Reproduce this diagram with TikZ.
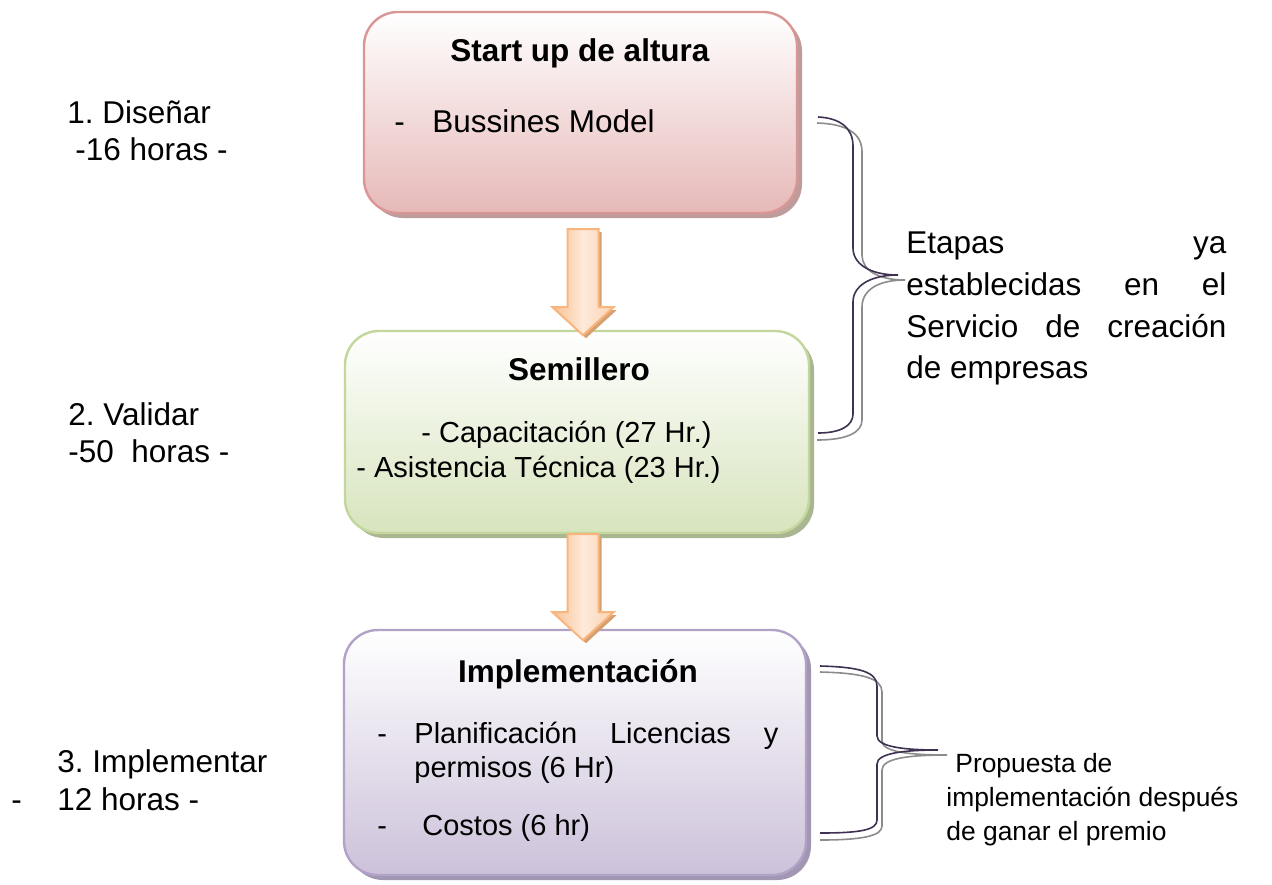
\documentclass[tikz,border=0pt]{standalone}
\usepackage{fontspec}
\setmainfont{Liberation Sans}
\usetikzlibrary{calc,shadows}
\frenchspacing

\definecolor{rosebd}{HTML}{D99694}
\definecolor{rosefill}{HTML}{E6B9B8}
\definecolor{roseshd}{HTML}{BF9C9C}
\definecolor{greenbd}{HTML}{C3D69B}
\definecolor{greenfill}{HTML}{D7E4BD}
\definecolor{greenshd}{HTML}{A9B791}
\definecolor{purpbd}{HTML}{B3A2C7}
\definecolor{purpfill}{HTML}{CCC1DA}
\definecolor{purpshd}{HTML}{A197B2}
\definecolor{orbd}{HTML}{F8B57E}
\definecolor{orfill}{HTML}{FAC090}
\definecolor{orlight}{HTML}{FDEADA}
\definecolor{orshd}{HTML}{D6A070}
\definecolor{bracedk}{HTML}{3F3151}
\definecolor{bracegr}{HTML}{8C8C8C}

\begin{document}
\begin{tikzpicture}[x=0.5pt,y=-0.5pt,
  stagebox/.style={rounded corners=17pt, line width=1.2pt, inner sep=0pt},
  txt/.style={inner sep=0pt, anchor=base west, font=\fontsize{15.75}{18}\selectfont},
  txtsm/.style={inner sep=0pt, anchor=base west, font=\fontsize{14.5}{17}\selectfont},
  txtnote/.style={inner sep=0pt, anchor=base west, font=\fontsize{13.2}{16}\selectfont},
  ttl/.style={inner sep=0pt, anchor=base, font=\fontsize{15.75}{18}\selectfont\bfseries},
  bracedark/.style={draw=bracedk, line width=0.8pt},
  bracegray/.style={draw=bracegr, line width=0.8pt},
  barrow/.pic={
    \fill[orshd] (-12.5,3) -- (18.5,3) -- (18.5,81) -- (33.5,81) -- (3,109) -- (-27.5,81) -- (-12.5,81) -- cycle;
    \path[draw=orbd, line width=1pt, left color=orfill, right color=orfill!55!orlight, middle color=orlight]
      (-15.5,0) -- (15.5,0) -- (15.5,78) -- (30.5,78) -- (0,106) -- (-30.5,78) -- (-15.5,78) -- cycle;
  }
]
\fill[white] (0,0) rectangle (1272,884);
\useasboundingbox (0,0) rectangle (1272,884);

% boxes
\node[stagebox, draw=rosebd, top color=white, bottom color=rosefill,
      drop shadow={shadow xshift=2.5pt, shadow yshift=-2.5pt, fill=roseshd, opacity=1},
      minimum width=216.5pt, minimum height=100.5pt] (b1) at (580.5,112.5) {};
\node[stagebox, draw=greenbd, top color=white, bottom color=greenfill,
      drop shadow={shadow xshift=2.5pt, shadow yshift=-2.5pt, fill=greenshd, opacity=1},
      minimum width=232pt, minimum height=101pt] (b2) at (577,432) {};
\node[stagebox, draw=purpbd, top color=white, bottom color=purpfill,
      drop shadow={shadow xshift=2.5pt, shadow yshift=-2.5pt, fill=purpshd, opacity=1},
      minimum width=231pt, minimum height=122.5pt] (b3) at (575,752.5) {};

% block arrows
\coordinate (a1) at ($(b1.south)+(2.5,15)$);
\coordinate (a2) at ($(b2.south)+(6,0)$);
\pic (ar1) at (a1) {barrow};
\pic (ar2) at (a2) {barrow};

% box 1 text
\node[ttl] (t1) at (580,61) {Start up de altura};
\node[txt] (d1) at (394,132) {-};
\node[txt] (m1) at (432,132) {Bussines Model};

% box 2 text
\node[ttl] (t2) at (579,380) {Semillero};
\node[txtsm] (m2a) at (421,442) {- Capacitación (27 Hr.)};
\node[txtsm] (m2b) at (356,477) {- Asistencia Técnica (23 Hr.)};

% box 3 text
\node[ttl] (t3) at (578,682) {Implementación};
\node[txtsm] (d3a) at (377,743) {-};
\node[txtsm] (m3a) at (414,743) {\hbox to 182pt{Planificación\hfill Licencias\hfill y}};
\node[txtsm] (m3b) at (414,777) {permisos (6 Hr)};
\node[txtsm] (d3b) at (377,835) {-};
\node[txtsm] (m3c) at (422,835) {Costos (6 hr)};

% left labels
\node[txt] (l1a) at (67,123) {1. Diseñar};
\node[txt] (l1b) at (75,160) {-16 horas -};
\node[txt] (l2a) at (68,425) {2. Validar};
\node[txt] (l2b) at (68,462) {-50\ \ horas -};
\node[txt] (l3a) at (57,772) {3. Implementar};
\node[txt] (l3d) at (11,810) {-};
\node[txt] (l3b) at (57,810) {12 horas -};

% brace 1
\draw[bracegray] (817,123) .. controls (848,124) and (862,134) .. (862,152) -- (862,255)
  .. controls (862,270) and (878,280) .. (905,280)
  .. controls (878,280) and (862,290) .. (862,307) -- (862,420)
  .. controls (862,432) and (848,440) .. (817,440);
\draw[bracedark] (818,117) .. controls (840,118) and (853,128) .. (853,146) -- (853,248)
  .. controls (853,264) and (870,275) .. (898,275)
  .. controls (870,275) and (853,286) .. (853,302) -- (853,414)
  .. controls (853,426) and (840,433) .. (818,433);

% brace 1 text
\node[txt] (e1) at (906,253) {\hbox to 160pt{Etapas\hfill ya}};
\node[txt] (e2) at (906,295) {\hbox to 160pt{establecidas\hfill en\hfill el}};
\node[txt] (e3) at (906,337) {\hbox to 160pt{Servicio\hfill de\hfill creación}};
\node[txt] (e4) at (906,378) {de empresas};

% brace 2
\draw[bracegray] (820,672) .. controls (862,673) and (882,678) .. (882,692) -- (882,741)
  .. controls (882,752) and (910,755) .. (947,755)
  .. controls (910,755) and (882,758) .. (882,770) -- (882,826)
  .. controls (882,836) and (862,840) .. (820,840);
\draw[bracedark] (820,666) .. controls (860,667) and (877,672) .. (877,686) -- (877,736)
  .. controls (877,747) and (905,750) .. (938,750)
  .. controls (905,750) and (877,753) .. (877,764) -- (877,820)
  .. controls (877,830) and (860,833) .. (820,833);

% brace 2 text
\node[txtnote] (p1) at (955,772) {Propuesta de};
\node[txtnote] (p2) at (946,806) {implementación después};
\node[txtnote] (p3) at (946,840) {de ganar el premio};
\end{tikzpicture}
\end{document}
